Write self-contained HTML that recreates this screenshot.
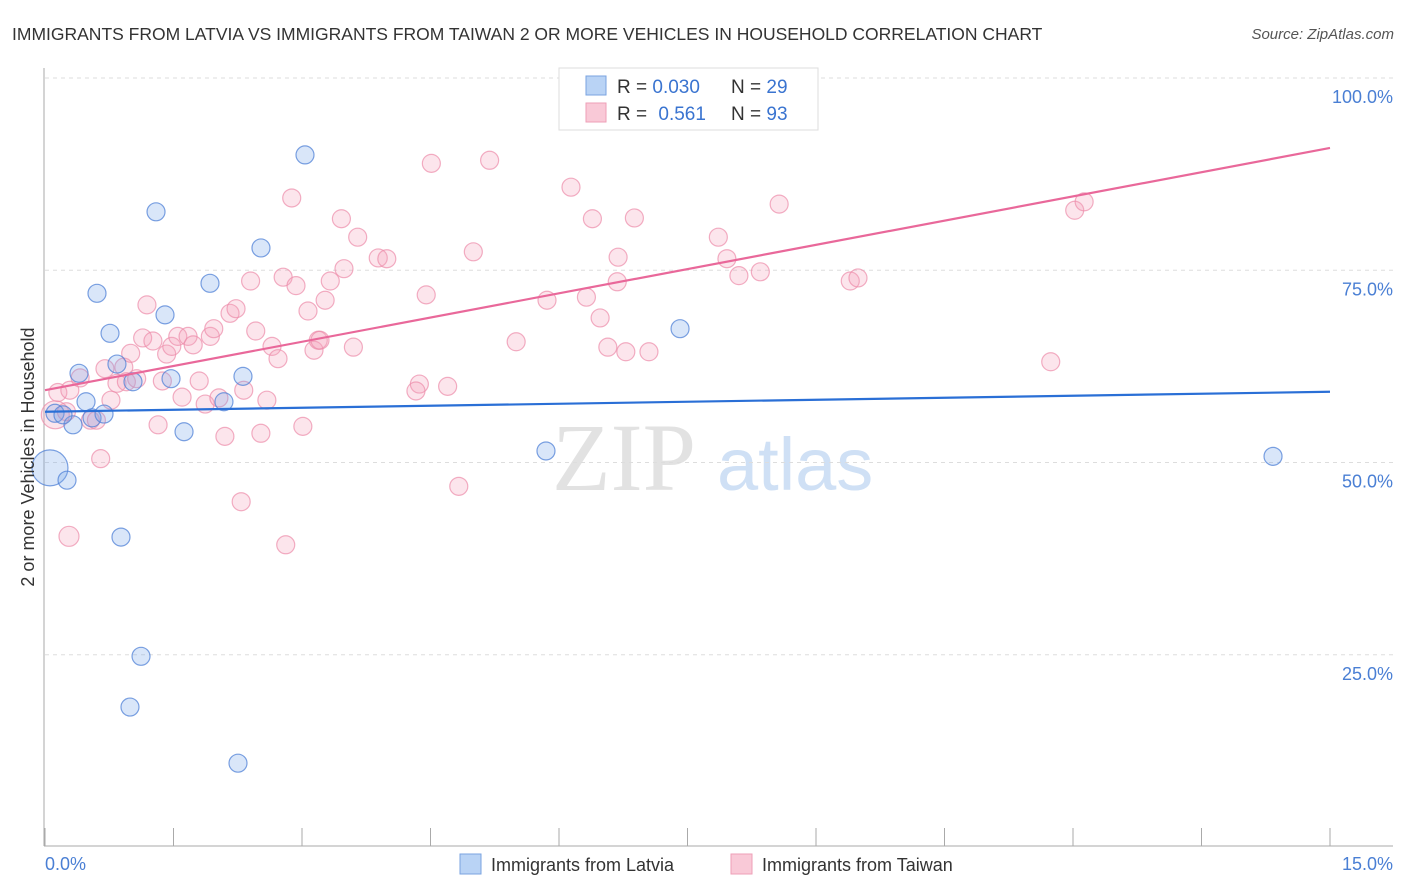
<!DOCTYPE html>
<html><head><meta charset="utf-8"><style>
body{margin:0;background:#fff;font-family:"Liberation Sans",sans-serif;}
svg{display:block}
</style></head><body>
<svg width="1406" height="892" xmlns="http://www.w3.org/2000/svg">
<text x="12" y="40" font-size="17.5" fill="#333">IMMIGRANTS FROM LATVIA VS IMMIGRANTS FROM TAIWAN 2 OR MORE VEHICLES IN HOUSEHOLD CORRELATION CHART</text>
<text x="1394" y="39" font-size="15" fill="#555" font-style="italic" text-anchor="end">Source: ZipAtlas.com</text>
<g>
<text x="552" y="490" font-size="96" fill="#e2e2e2" font-family="Liberation Serif, serif">ZIP</text>
<text x="717" y="490" font-size="74" fill="#cfe0f5">atlas</text>
</g>
<g id="grid"></g>
<g id="axes"></g>
<g id="pts"></g>
<g id="trend"></g>
<text transform="translate(34,457) rotate(-90)" font-size="18" fill="#333" text-anchor="middle">2 or more Vehicles in Household</text>
<text x="45" y="870" font-size="18" fill="#4a7fd4">0.0%</text>
<text x="1393" y="870" font-size="18" fill="#4a7fd4" text-anchor="end">15.0%</text>
<g>
<rect x="559" y="68" width="259" height="62" fill="#fff" stroke="#ddd"/>
<rect x="586" y="76" width="20" height="19" fill="#b9d3f5" stroke="#7aa3e0"/>
<rect x="586" y="103" width="20" height="19" fill="#f9c9d7" stroke="#ee9fb7"/>
<text x="617" y="93" font-size="19" fill="#333">R = <tspan fill="#3a74d0">0.030</tspan></text>
<text x="731" y="93" font-size="19" fill="#333">N = <tspan fill="#3a74d0">29</tspan></text>
<text x="617" y="120" font-size="19" fill="#333">R = <tspan fill="#3a74d0" dx="6">0.561</tspan></text>
<text x="731" y="120" font-size="19" fill="#333">N = <tspan fill="#3a74d0">93</tspan></text>
</g>
<g>
<rect x="460" y="854" width="21" height="20" fill="#b9d3f5" stroke="#7aa3e0"/>
<text x="491" y="871" font-size="18" fill="#333">Immigrants from Latvia</text>
<rect x="731" y="854" width="21" height="20" fill="#f9c9d7" stroke="#ee9fb7"/>
<text x="762" y="871" font-size="18" fill="#333">Immigrants from Taiwan</text>
</g>
</svg>
<script>
const yTicks=[25,50,75,100];
const yTickLabels=["25.0%","50.0%","75.0%","100.0%"];
const xTicks=[0,1.5,3,4.5,6,7.5,9,10.5,12,13.5,15];
const latviaX=[0.117,0.058,0.257,0.327,0.479,0.397,0.549,0.689,0.607,0.759,0.840,1.027,0.887,1.121,0.992,1.296,1.401,1.471,1.623,1.926,2.089,2.311,2.521,3.035,2.253,5.848,7.413,14.335,0.210];
const latviaY=[56.4,49.3,47.7,54.9,57.9,61.6,55.8,56.3,72.0,66.8,62.8,60.5,40.3,24.8,18.2,82.6,69.2,60.9,54.0,73.3,57.9,61.2,77.9,90.0,10.9,51.5,67.4,50.8,56.2];
const taiwanX=[0.12,0.15,0.25,0.29,0.41,0.53,0.60,0.65,0.28,0.70,0.77,0.84,0.92,0.95,1.00,1.07,1.14,1.19,1.26,1.32,1.37,1.42,1.48,1.55,1.60,1.67,1.73,1.80,1.87,1.93,1.97,2.03,2.10,2.16,2.23,2.29,2.32,2.40,2.46,2.52,2.59,2.65,2.72,2.78,2.81,2.88,2.93,3.01,3.07,3.14,3.19,3.27,3.33,3.46,3.49,3.60,3.65,3.89,3.99,4.37,4.33,4.45,4.51,4.70,4.83,5.00,5.19,5.50,5.86,6.14,6.32,6.39,6.48,6.57,6.69,6.68,6.78,6.88,7.05,7.86,7.96,8.10,8.35,8.57,9.40,9.49,11.74,12.02,12.13,6.32,3.21];
const taiwanY=[56.2,59.1,56.6,59.4,61.0,55.5,55.5,50.5,40.4,62.2,58.1,60.3,62.4,60.5,64.2,60.9,66.2,70.5,65.8,54.9,60.6,64.1,65.1,66.4,58.5,66.4,65.3,60.6,57.6,66.4,67.4,58.4,53.4,69.4,70.0,44.9,59.4,73.6,67.1,53.8,58.1,65.1,63.5,74.1,39.3,84.4,73.0,54.7,69.7,64.6,65.9,71.1,73.6,81.7,75.2,65.0,79.3,76.6,76.5,60.2,59.3,71.8,88.9,59.9,46.9,77.4,89.3,65.7,71.1,85.8,71.5,81.7,68.8,65.0,76.7,73.5,64.4,81.8,64.4,79.3,76.5,74.3,74.8,83.6,73.6,74.0,63.1,82.8,83.9,99.9,65.9];
const latviaTrend=[56.6,59.2];
const taiwanTrend=[59.4,90.9];
const X0=45,X1=1330,Y100=78,YPER=7.69;
const sx=v=>X0+(v/15)*(X1-X0);
const sy=v=>Y100+(100-v)*YPER;
const NS="http://www.w3.org/2000/svg";
function mk(tag,attrs,parent){const e=document.createElementNS(NS,tag);for(const k in attrs)e.setAttribute(k,attrs[k]);parent.appendChild(e);return e;}
const grid=document.getElementById('grid'),axes=document.getElementById('axes'),pts=document.getElementById('pts'),trend=document.getElementById('trend');
yTicks.forEach((t,i)=>{
 const l=mk('line',{x1:45,x2:1393,y1:sy(t),y2:sy(t),stroke:'#ddd','stroke-dasharray':'4,4'},grid);
 
 
 const tx=mk('text',{x:1393,y:sy(t)+25,'font-size':18,fill:'#4a7fd4','text-anchor':'end'},grid);
 tx.textContent=yTickLabels[i];
 
 
});
const ya=mk('line',{x1:44,x2:44,y1:68,y2:846,stroke:'#aaa'},axes);


const xa=mk('line',{x1:44,x2:1393,y1:846,y2:846,stroke:'#aaa'},axes);


xTicks.forEach(t=>{
 const l=mk('line',{x1:sx(t),x2:sx(t),y1:828,y2:846,stroke:'#aaa'},axes);
 
 
});
taiwanX.forEach((x,i)=>{
 const r=i===0?14:(i===8?10:9);
 const c=mk('circle',{cx:sx(x),cy:sy(taiwanY[i]),r:r,fill:'rgba(244,160,188,0.28)',stroke:'rgba(236,140,170,0.7)','stroke-width':1.2},pts);
 
 
});
latviaX.forEach((x,i)=>{
 const r=i===1?18:9;
 const c=mk('circle',{cx:sx(x),cy:sy(latviaY[i]),r:r,fill:'rgba(120,165,235,0.28)',stroke:'rgba(80,130,215,0.75)','stroke-width':1.2},pts);
 
 
});
const tb=mk('line',{x1:sx(0),x2:sx(15),y1:sy(latviaTrend[0]),y2:sy(latviaTrend[1]),stroke:'#2a6fd6','stroke-width':2.2},trend);


const tp=mk('line',{x1:sx(0),x2:sx(15),y1:sy(taiwanTrend[0]),y2:sy(taiwanTrend[1]),stroke:'#e9689a','stroke-width':2.2},trend);


</script>
</body></html>
